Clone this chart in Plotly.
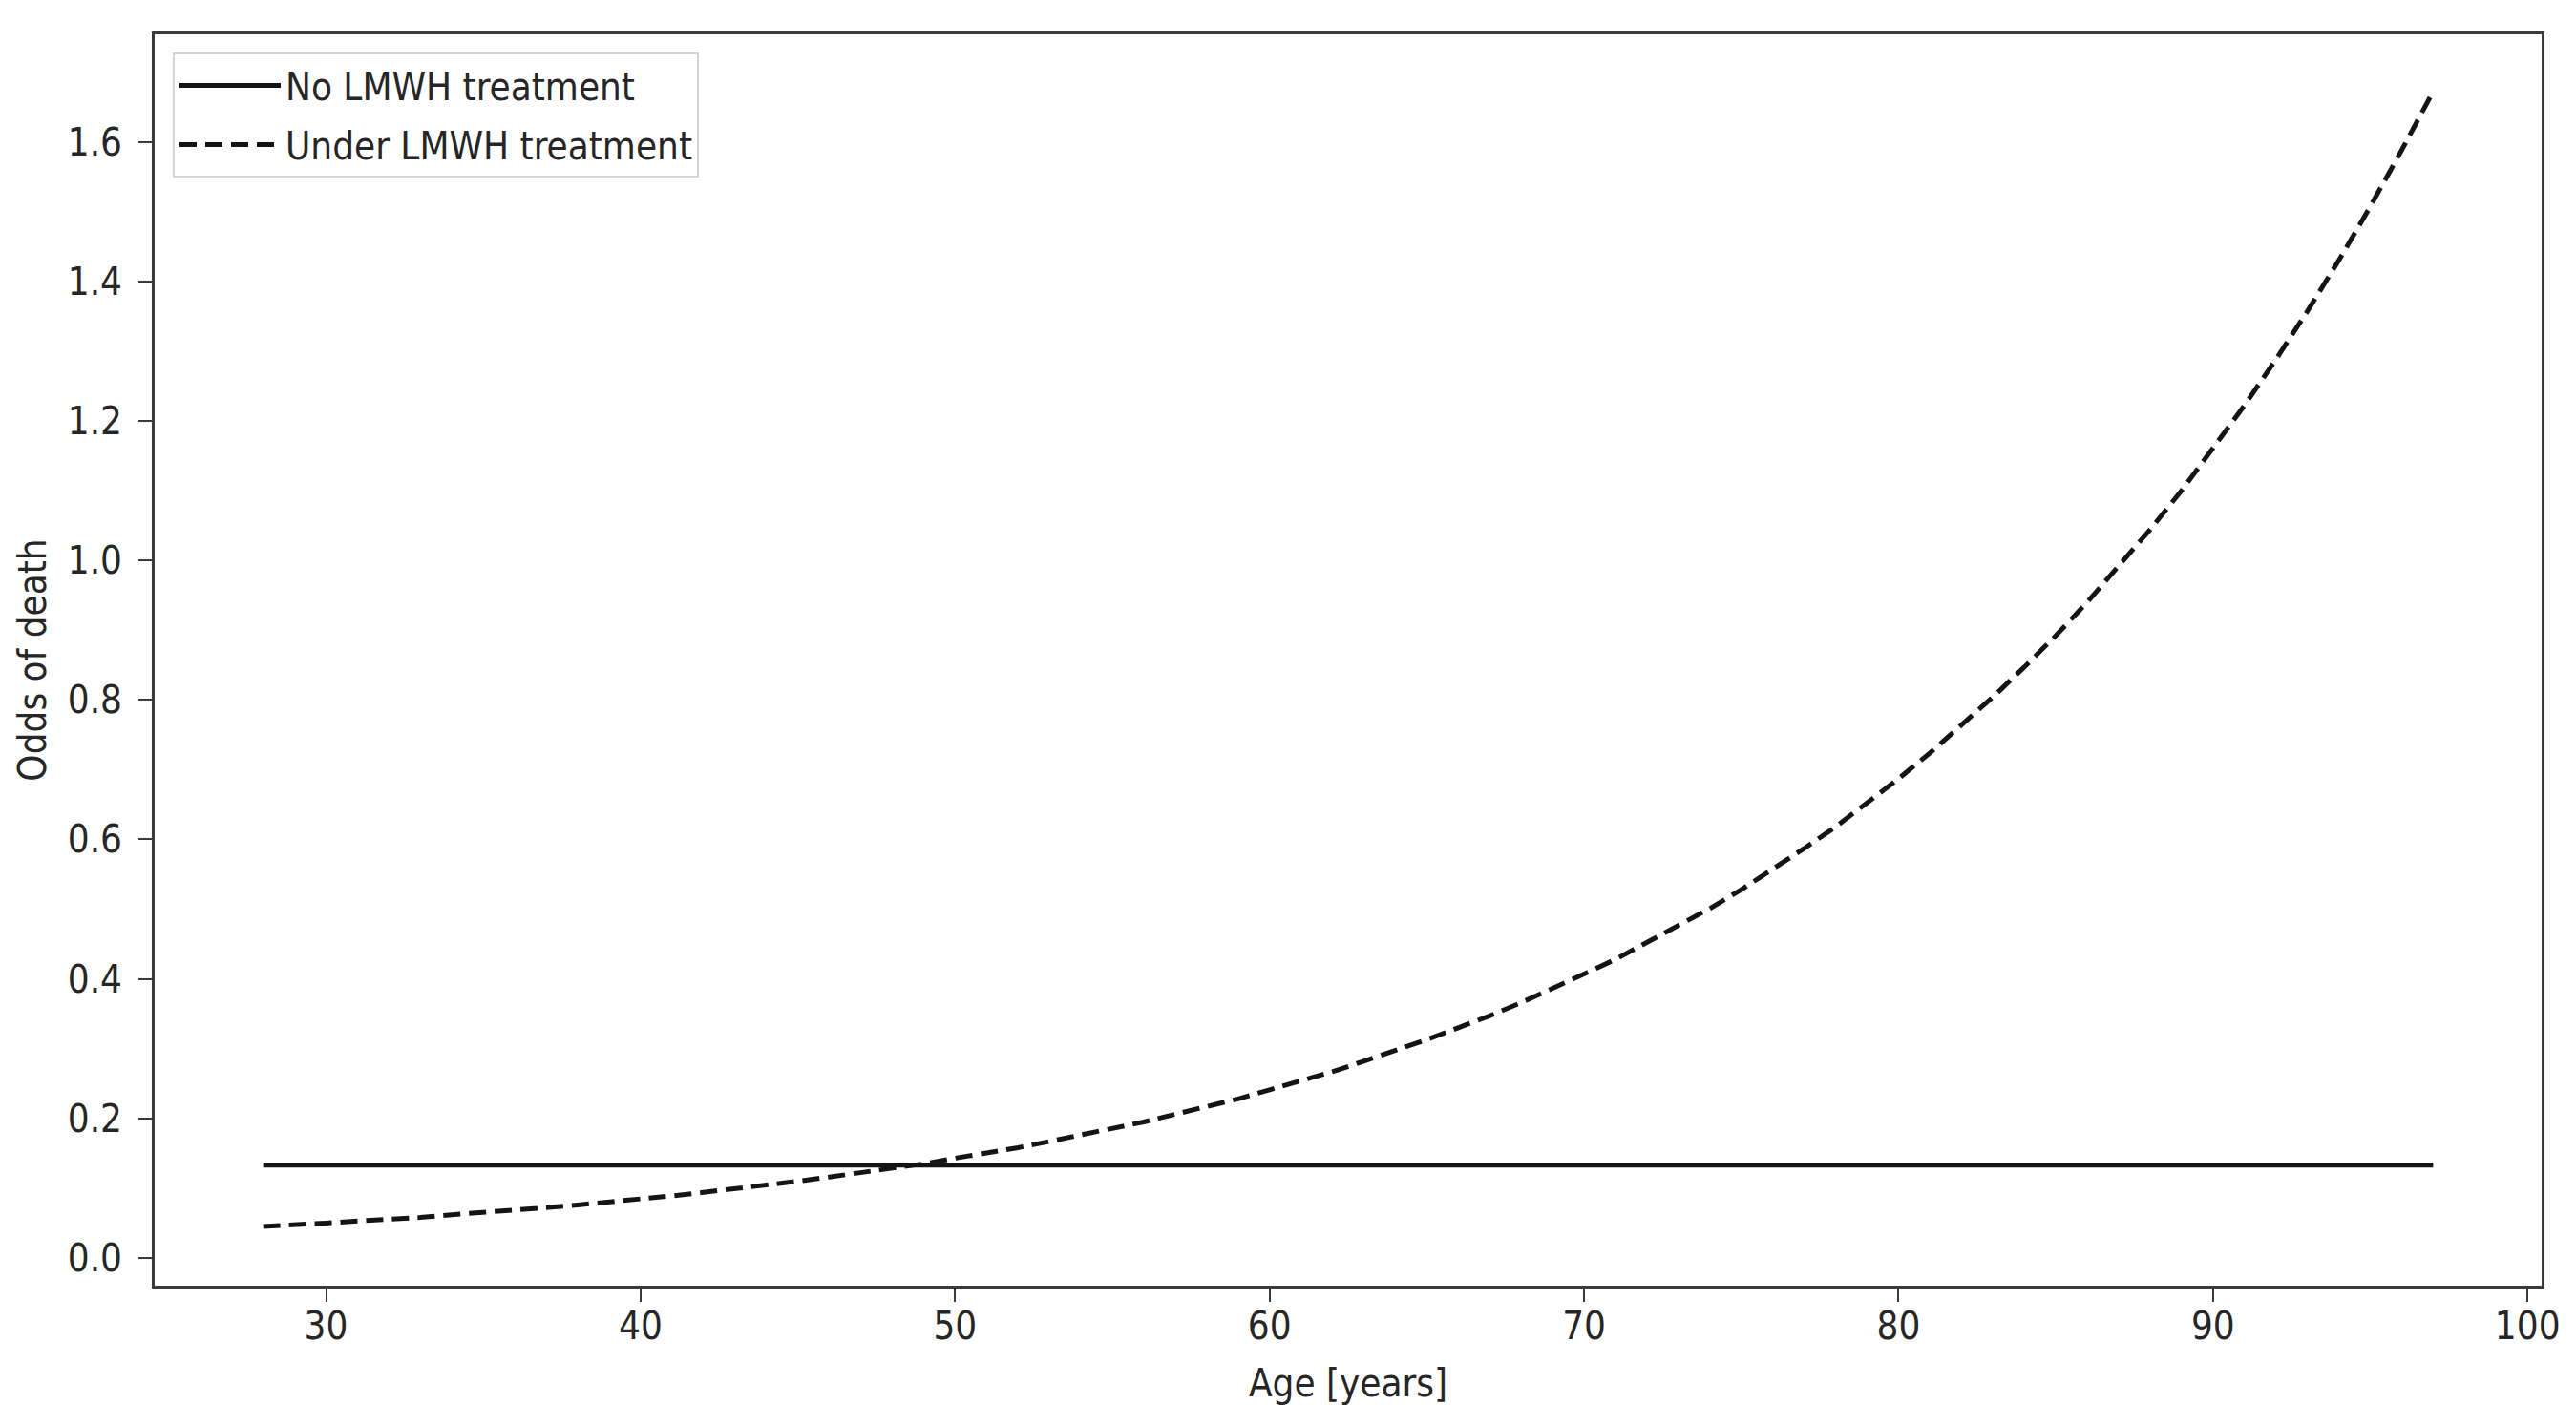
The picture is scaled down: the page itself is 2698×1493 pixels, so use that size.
import plotly.graph_objects as go

# ---- data ----
ages = [28, 29, 30, 31, 32, 33, 34, 35, 36, 37, 38, 39, 40, 41, 42, 43, 44, 45, 46, 47,
        48, 49, 50, 51, 52, 53, 54, 55, 56, 57, 58, 59, 60, 61, 62, 63, 64, 65, 66, 67,
        68, 69, 70, 71, 72, 73, 74, 75, 76, 77, 78, 79, 80, 81, 82, 83, 84, 85, 86, 87,
        88, 89, 90, 91, 92, 93, 94, 95, 96, 97]

under_lmwh_odds = [0.045, 0.047, 0.050, 0.053, 0.055, 0.058, 0.062, 0.065, 0.068, 0.072,
                   0.076, 0.080, 0.084, 0.089, 0.094, 0.099, 0.104, 0.110, 0.116, 0.122,
                   0.128, 0.135, 0.143, 0.150, 0.158, 0.167, 0.176, 0.185, 0.195, 0.206,
                   0.217, 0.228, 0.241, 0.254, 0.267, 0.282, 0.297, 0.313, 0.330, 0.347,
                   0.366, 0.386, 0.407, 0.428, 0.452, 0.476, 0.501, 0.528, 0.557, 0.587,
                   0.618, 0.652, 0.687, 0.724, 0.763, 0.804, 0.847, 0.892, 0.940, 0.991,
                   1.044, 1.100, 1.160, 1.222, 1.288, 1.357, 1.430, 1.507, 1.588, 1.672]

no_lmwh_ages = [28, 97]
no_lmwh_odds = [0.133, 0.133]

series_names = ["No LMWH treatment", "Under LMWH treatment"]

x_ticks = [30, 40, 50, 60, 70, 80, 90, 100]
y_ticks = [0.0, 0.2, 0.4, 0.6, 0.8, 1.0, 1.2, 1.4, 1.6]

x_title = "Age [years]"
y_title = "Odds of death"

# ---- figure ----
FONT = "DejaVu Sans Condensed, DejaVu Sans, sans-serif"
TXT = "#262626"
AX = "#3a3a3a"

fig = go.Figure()
fig.add_trace(go.Scatter(
    x=no_lmwh_ages, y=no_lmwh_odds, mode="lines", name=series_names[0],
    legendgroup="a",
    line=dict(color="#141414", width=5, dash="solid"),
))
fig.add_trace(go.Scatter(
    x=ages, y=under_lmwh_odds, mode="lines", name=series_names[1],
    legendgroup="b",
    line=dict(color="#141414", width=5, dash="18px,9px"),
))

axis_common = dict(
    showline=True, mirror=True, linecolor=AX, linewidth=3,
    ticks="outside", ticklen=14, tickwidth=2, tickcolor=AX,
    showgrid=False, zeroline=False,
    tickfont=dict(family=FONT, size=40, color=TXT),
    title_font=dict(family=FONT, size=40, color=TXT),
)

fig.update_xaxes(
    range=[24.55, 100.45], tickvals=x_ticks, ticktext=[str(v) for v in x_ticks],
    title_text=x_title, title_standoff=24, ticklabelstandoff=-9, **axis_common,
)
fig.update_yaxes(
    range=[-0.0397, 1.754], tickvals=y_ticks, ticktext=[f"{v:.1f}" for v in y_ticks],
    title_text=y_title, title_standoff=10, ticklabelstandoff=9, **axis_common,
)

fig.update_layout(
    width=2698, height=1493,
    margin=dict(l=162, r=36, t=36, b=146, autoexpand=False),
    paper_bgcolor="white", plot_bgcolor="white",
    font=dict(family=FONT, size=40, color=TXT),
    showlegend=True,
    legend=dict(
        x=0.0076, y=0.9855, xanchor="left", yanchor="top",
        bgcolor="white", bordercolor="#d4d4d4", borderwidth=2,
        font=dict(family=FONT, size=40, color=TXT),
        traceorder="grouped", tracegroupgap=7,
        itemwidth=106,
    ),
)

fig.write_html(
    "out.html",
    config={"displayModeBar": False},
    post_script="document.body.style.margin='0';document.body.style.overflow='hidden';",
)
